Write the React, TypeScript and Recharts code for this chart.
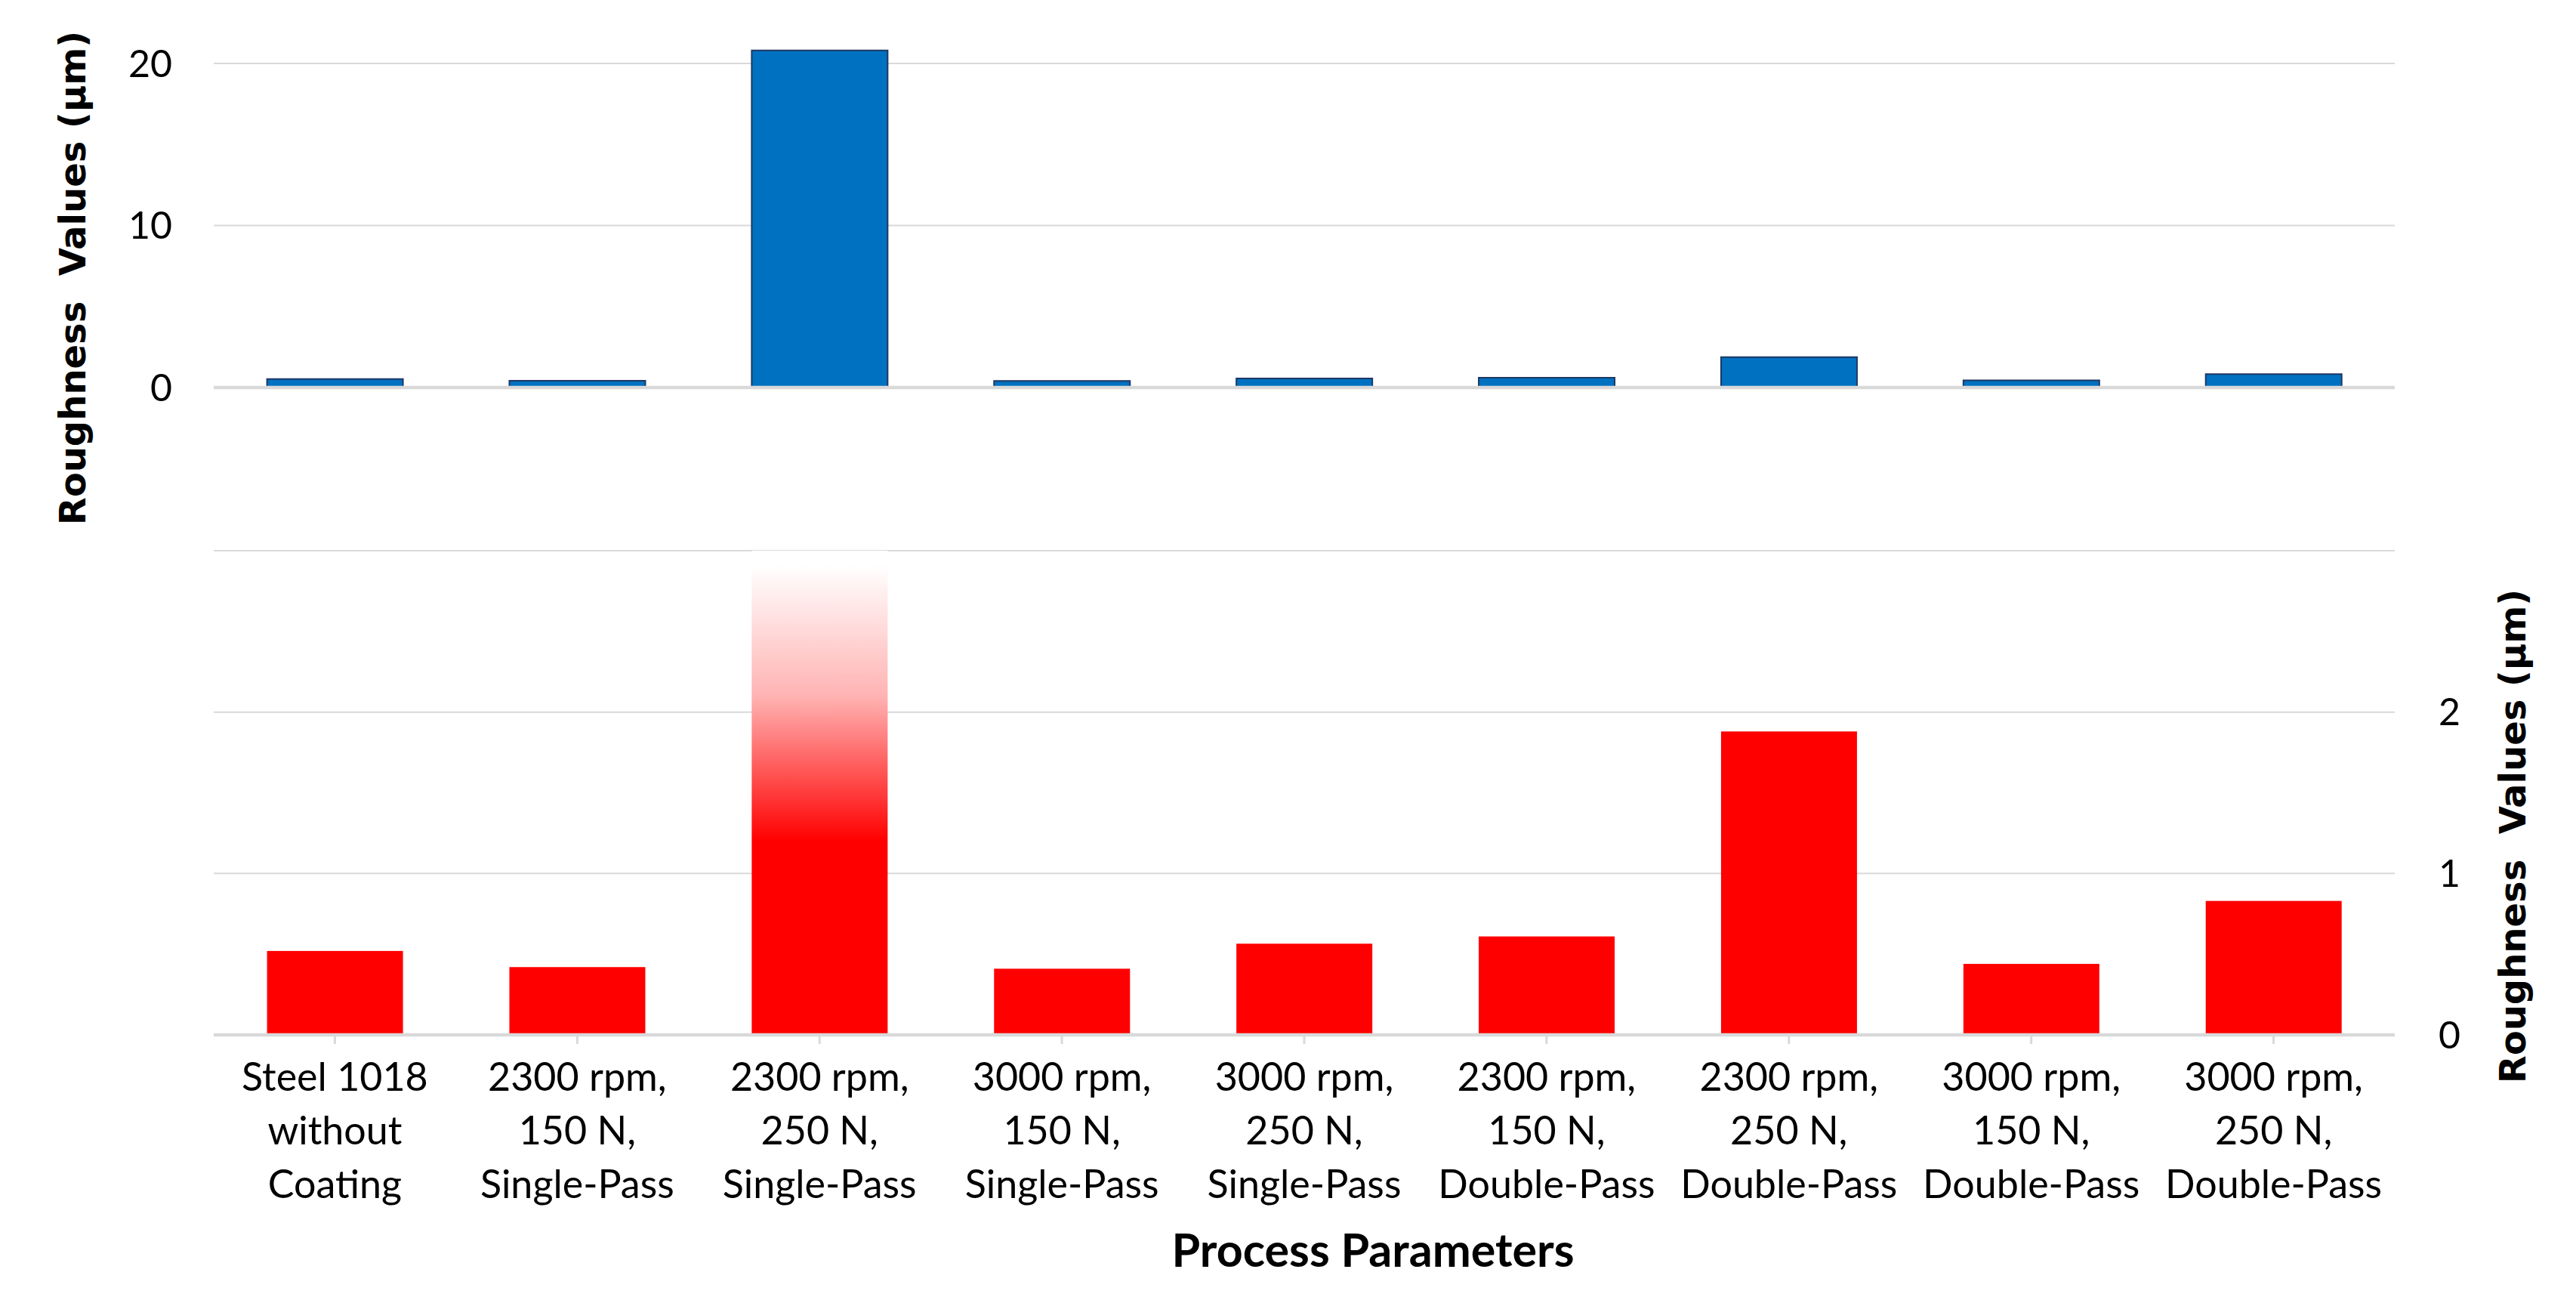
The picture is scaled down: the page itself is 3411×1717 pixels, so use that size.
import React from 'react';
import { BarChart, Bar, XAxis, YAxis, CartesianGrid, Cell } from 'recharts';

// ---- data ----
const categoryLines: string[][] = [
  ['Steel 1018', 'without', 'Coating'],
  ['2300 rpm,', '150 N,', 'Single-Pass'],
  ['2300 rpm,', '250 N,', 'Single-Pass'],
  ['3000 rpm,', '150 N,', 'Single-Pass'],
  ['3000 rpm,', '250 N,', 'Single-Pass'],
  ['2300 rpm,', '150 N,', 'Double-Pass'],
  ['2300 rpm,', '250 N,', 'Double-Pass'],
  ['3000 rpm,', '150 N,', 'Double-Pass'],
  ['3000 rpm,', '250 N,', 'Double-Pass'],
];
const roughness: number[] = [0.52, 0.42, 20.8, 0.41, 0.565, 0.61, 1.88, 0.44, 0.83];
const topTicks: number[] = [0, 10, 20];
const topGridValues: number[] = [0, 10, 20];
const bottomTicks: number[] = [0, 1, 2, 3];
const bottomTickLabels: string[] = ['0', '1', '2', ''];
const yTitle = 'Roughness\u00A0 Values (\u00B5m)';
const xTitle = 'Process Parameters';

const data = categoryLines.map((lines, i) => ({ cat: lines.join('\n'), value: roughness[i] }));

const GRID = '#d9d9d9';
const BLUE = '#0070C0';
const RED = '#FF0000';
const TICK_FONT = 'Lato, "Open Sans", sans-serif';

const CatTick = (props: any) => {
  const { x, y, payload } = props;
  const lines = String(payload.value).split('\n');
  return (
    <text x={x} y={y} textAnchor="middle" fontFamily={TICK_FONT} fontSize={52} fill="#000">
      {lines.map((l, i) => (
        <tspan key={i} x={x} dy={i === 0 ? 60 : 71}>
          {l}
        </tspan>
      ))}
    </text>
  );
};

const ClampedRect = (props: any) => {
  const { x, y, width, height, fill, background } = props;
  let top = y;
  const bottom = y + height;
  if (background && typeof background.y === 'number' && top < background.y) top = background.y;
  return <rect x={x} y={top} width={width} height={Math.max(0, bottom - top)} fill={fill} />;
};

const topGridGenerator = (args: any) => {
  const scale = args?.yAxis?.scale;
  if (typeof scale === 'function') return topGridValues.map((v) => scale(v));
  if (scale && typeof scale.map === 'function') return topGridValues.map((v) => scale.map(v));
  return [];
};

export default function App() {
  return (
    <div
      style={{
        position: 'absolute',
        left: 0,
        top: 0,
        width: 3411,
        height: 1717,
        background: '#fff',
        overflow: 'hidden',
      }}
    >
      <div style={{ position: 'absolute', left: 0, top: 0 }}>
        <BarChart
          width={3411}
          height={600}
          data={data}
          margin={{ top: 41, right: 240, left: 0, bottom: 85 }}
          barCategoryGap="22%"
        >
          <CartesianGrid
            vertical={false}
            stroke={GRID}
            strokeWidth={2}
            horizontalCoordinatesGenerator={topGridGenerator}
          />
          <XAxis
            dataKey="cat"
            tick={false}
            tickLine={false}
            height={2}
            axisLine={{ stroke: GRID, strokeWidth: 4.5 }}
          />
          <YAxis
            width={283}
            domain={[0, 22]}
            ticks={topTicks}
            interval={0}
            axisLine={false}
            tickLine={false}
            tickSize={0}
            tickMargin={55}
            tick={{ fontFamily: TICK_FONT, fontSize: 50, fill: '#000' }}
          />
          <Bar dataKey="value" fill={BLUE} stroke="#1F3864" strokeWidth={2} isAnimationActive={false} />
        </BarChart>
      </div>

      <div style={{ position: 'absolute', left: 0, top: 640 }}>
        <BarChart
          width={3411}
          height={1077}
          data={data}
          margin={{ top: 89, right: 0, left: 283, bottom: 47 }}
          barCategoryGap="22%"
        >
          <defs>
            <linearGradient id="redFade" x1="0" y1="0" x2="0" y2="1">
              <stop offset="0" stopColor="#ffffff" />
              <stop offset="0.03" stopColor="#ffffff" />
              <stop offset="0.3" stopColor="#ffb3b3" />
              <stop offset="0.6" stopColor={RED} />
              <stop offset="1" stopColor={RED} />
            </linearGradient>
          </defs>
          <CartesianGrid vertical={false} stroke={GRID} strokeWidth={2} />
          <XAxis
            dataKey="cat"
            interval={0}
            height={300}
            axisLine={{ stroke: GRID, strokeWidth: 4.5 }}
            tickLine={{ stroke: GRID, strokeWidth: 3 }}
            tickSize={12}
            tickMargin={2}
            tick={<CatTick />}
          />
          <YAxis
            orientation="right"
            width={240}
            domain={[0, 3]}
            allowDataOverflow
            ticks={bottomTicks}
            interval={0}
            tickFormatter={(v: number) => bottomTickLabels[bottomTicks.indexOf(v)] ?? String(v)}
            axisLine={false}
            tickLine={false}
            tickSize={0}
            tickMargin={58}
            tick={{ fontFamily: TICK_FONT, fontSize: 50, fill: '#000' }}
          />
          <Bar dataKey="value" fill={RED} isAnimationActive={false} shape={<ClampedRect />}>
            {data.map((d, i) => (
              <Cell key={i} fill={d.value > 3 ? 'url(#redFade)' : RED} />
            ))}
          </Bar>
        </BarChart>
      </div>

      <svg
        width={3411}
        height={1717}
        style={{ position: 'absolute', left: 0, top: 0, pointerEvents: 'none' }}
      >
        <text
          x={96}
          y={368}
          transform="rotate(-90 96 368)"
          textAnchor="middle"
          dominantBaseline="central"
          fontFamily='"DejaVu Sans", Verdana, sans-serif'
          fontWeight="bold"
          fontSize={48}
          fill="#000"
        >
          {yTitle}
        </text>
        <text
          x={3327}
          y={1107}
          transform="rotate(-90 3327 1107)"
          textAnchor="middle"
          dominantBaseline="central"
          fontFamily='"DejaVu Sans", Verdana, sans-serif'
          fontWeight="bold"
          fontSize={48}
          fill="#000"
        >
          {yTitle}
        </text>
        <text
          x={1818}
          y={1677}
          textAnchor="middle"
          fontFamily={TICK_FONT}
          fontWeight="bold"
          fontSize={61}
          fill="#000"
        >
          {xTitle}
        </text>
      </svg>
    </div>
  );
}
